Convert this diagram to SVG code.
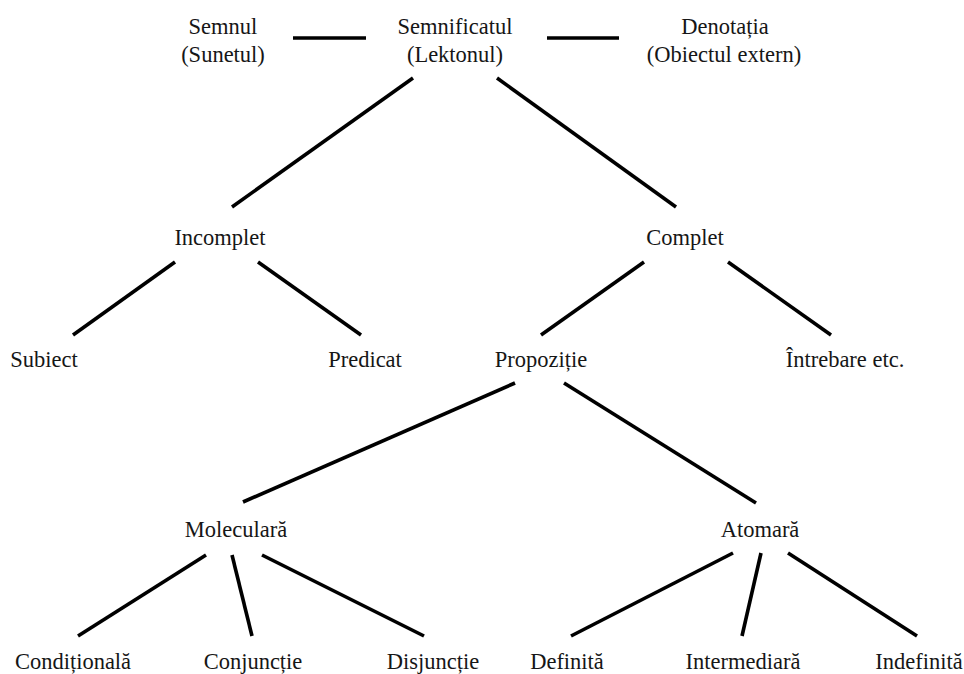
<svg xmlns="http://www.w3.org/2000/svg" width="964" height="674" viewBox="0 0 964 674">
<style>
text{font-family:"Liberation Serif","Times New Roman",serif;font-size:22.5px;fill:#161616;text-anchor:middle}
.c line{stroke:#000;stroke-width:3.6;stroke-linecap:butt}
</style>
<rect width="964" height="674" fill="#fff"/>
<g class="c" id="connectors">
<line x1="293" y1="38" x2="366" y2="38"/>
<line x1="547" y1="38" x2="619" y2="38"/>
<line x1="413" y1="78" x2="232" y2="207"/>
<line x1="497" y1="78" x2="676" y2="207"/>
<line x1="175" y1="262" x2="73" y2="335"/>
<line x1="258" y1="262" x2="361" y2="335"/>
<line x1="644" y1="262" x2="541" y2="335"/>
<line x1="728" y1="262" x2="831" y2="335"/>
<line x1="515" y1="383" x2="243" y2="502"/>
<line x1="564" y1="383" x2="756" y2="503"/>
<line x1="206" y1="555" x2="78" y2="636"/>
<line x1="232" y1="555" x2="252" y2="636"/>
<line x1="262" y1="555" x2="424" y2="636"/>
<line x1="733" y1="553" x2="571" y2="636"/>
<line x1="761" y1="553" x2="742" y2="636"/>
<line x1="788" y1="553" x2="917" y2="636"/>
</g>
<g id="semnul"><text x="223" y="34">Semnul</text><text x="223" y="62">(Sunetul)</text></g>
<g id="semnificatul"><text x="455" y="34">Semnificatul</text><text x="455" y="62">(Lektonul)</text></g>
<g id="denotatia"><text x="725" y="34">Denotația</text><text x="724" y="62">(Obiectul extern)</text></g>
<g id="incomplet"><text x="220" y="245">Incomplet</text></g>
<g id="complet"><text x="685" y="245">Complet</text></g>
<g id="subiect"><text x="44" y="367">Subiect</text></g>
<g id="predicat"><text x="365" y="367">Predicat</text></g>
<g id="propozitie"><text x="541" y="367">Propoziție</text></g>
<g id="intrebare"><text x="845" y="367">Întrebare etc.</text></g>
<g id="moleculara"><text x="236" y="537">Moleculară</text></g>
<g id="atomara"><text x="760" y="537">Atomară</text></g>
<g id="conditionala"><text x="73" y="669">Condițională</text></g>
<g id="conjunctie"><text x="253" y="669">Conjuncție</text></g>
<g id="disjunctie"><text x="433" y="669">Disjuncție</text></g>
<g id="definita"><text x="567" y="669">Definită</text></g>
<g id="intermediara"><text x="743" y="669">Intermediară</text></g>
<g id="indefinita"><text x="919" y="669">Indefinită</text></g>
</svg>
